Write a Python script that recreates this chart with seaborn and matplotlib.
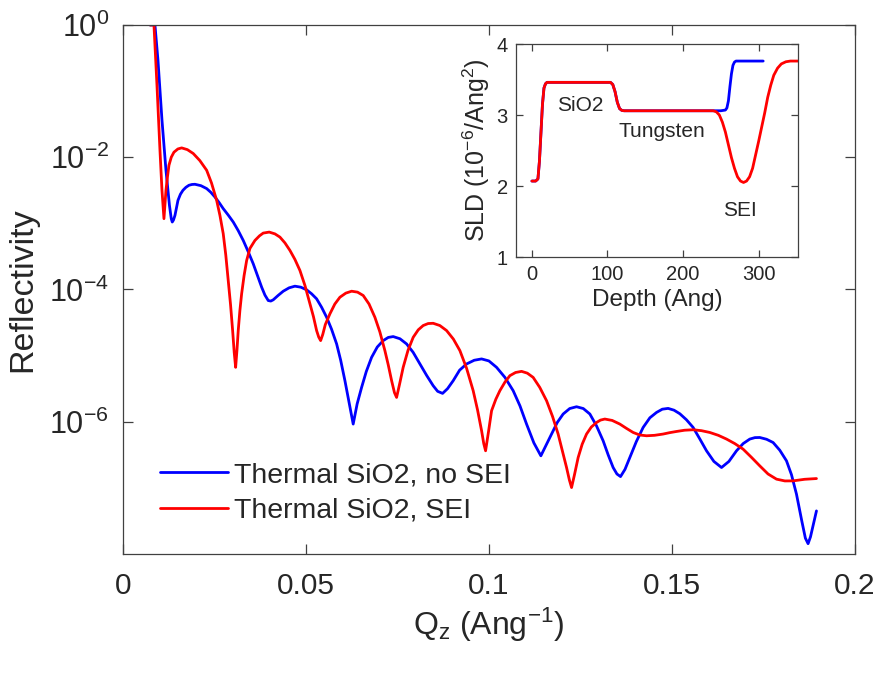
import numpy as np
import pandas as pd
import matplotlib
matplotlib.use("Agg")
import matplotlib.pyplot as plt
import seaborn as sns
from matplotlib.ticker import FixedLocator, LogFormatterSciNotation, NullLocator
from matplotlib.lines import Line2D

# ---------------- data ----------------
# Reflectivity curves: Q_z (1/Ang) and log10(reflectivity)
q_blue = [0.00738, 0.00874, 0.00956, 0.01066, 0.01175, 0.01270, 0.01320, 0.01347, 0.01380,
          0.01421, 0.01503, 0.01570, 0.01639, 0.01720, 0.01803, 0.01885, 0.01967, 0.02130,
          0.02287, 0.02400, 0.02514, 0.02627, 0.02740, 0.02877, 0.03014, 0.03150, 0.03287,
          0.03424, 0.03560, 0.03675, 0.03790, 0.03880, 0.03970, 0.04040, 0.04107, 0.04240,
          0.04380, 0.04540, 0.04699, 0.04860, 0.05019, 0.05155, 0.05292, 0.05430, 0.05566,
          0.05700, 0.05839, 0.05950, 0.06066, 0.06180, 0.06292, 0.06400, 0.06522, 0.06650,
          0.06795, 0.06950, 0.07112, 0.07250, 0.07385, 0.07570, 0.07751, 0.07930, 0.08115,
          0.08300, 0.08478, 0.08600, 0.08735, 0.08870, 0.09025, 0.09200, 0.09391, 0.09600,
          0.09801, 0.10000, 0.10210, 0.10440, 0.10664, 0.10850, 0.11030, 0.11230, 0.11421,
          0.11560, 0.11713, 0.11870, 0.12030, 0.12210, 0.12396, 0.12580, 0.12760, 0.12940,
          0.13123, 0.13260, 0.13396, 0.13500, 0.13598, 0.13720, 0.13852, 0.14030, 0.14216,
          0.14400, 0.14582, 0.14740, 0.14899, 0.15060, 0.15219, 0.15400, 0.15582, 0.15765,
          0.15948, 0.16150, 0.16358, 0.16560, 0.16768, 0.16950, 0.17131, 0.17270, 0.17404,
          0.17590, 0.17768, 0.17950, 0.18134, 0.18270, 0.18407, 0.18552, 0.18650, 0.18724,
          0.18790, 0.18870, 0.18953]
log_r_blue = [0.0, 0.0, -0.530, -1.439, -2.197, -2.727, -2.93, -2.980, -2.95,
              -2.879, -2.652, -2.56, -2.50, -2.455, -2.424, -2.412, -2.409, -2.43,
              -2.474, -2.53, -2.602, -2.685, -2.777, -2.875, -2.980, -3.11, -3.258,
              -3.43, -3.611, -3.79, -3.965, -4.085, -4.167, -4.175, -4.156, -4.09,
              -4.026, -3.975, -3.950, -3.965, -4.005, -4.065, -4.141, -4.27, -4.420,
              -4.60, -4.823, -5.07, -5.379, -5.71, -6.035, -5.73, -5.480, -5.24,
              -5.026, -4.87, -4.773, -4.725, -4.712, -4.745, -4.823, -4.95, -5.126,
              -5.30, -5.455, -5.54, -5.571, -5.50, -5.379, -5.22, -5.126, -5.07,
              -5.050, -5.08, -5.177, -5.33, -5.530, -5.76, -6.035, -6.32, -6.515,
              -6.36, -6.186, -6.01, -5.883, -5.80, -5.773, -5.80, -5.883, -6.06,
              -6.288, -6.50, -6.692, -6.79, -6.829, -6.72, -6.541, -6.30, -6.086,
              -5.94, -5.859, -5.81, -5.798, -5.825, -5.879, -5.97, -6.086, -6.26,
              -6.439, -6.60, -6.692, -6.60, -6.439, -6.33, -6.262, -6.240, -6.238,
              -6.265, -6.314, -6.43, -6.591, -6.80, -7.095, -7.5, -7.76, -7.844,
              -7.74, -7.55, -7.348]

q_red = [0.00738, 0.00847, 0.00929, 0.01011, 0.01066, 0.01120, 0.01175, 0.01215, 0.01257,
         0.01320, 0.01393, 0.01500, 0.01604, 0.01760, 0.01921, 0.02100, 0.02287, 0.02420,
         0.02560, 0.02650, 0.02740, 0.02810, 0.02877, 0.02940, 0.02997, 0.03040, 0.03079,
         0.03115, 0.03150, 0.03195, 0.03243, 0.03310, 0.03380, 0.03470, 0.03607, 0.03730,
         0.03833, 0.03997, 0.04153, 0.04290, 0.04426, 0.04563, 0.04699, 0.04836, 0.04973,
         0.05109, 0.05205, 0.05292, 0.05350, 0.05402, 0.05460, 0.05530, 0.05656, 0.05790,
         0.05929, 0.06090, 0.06249, 0.06410, 0.06566, 0.06725, 0.06885, 0.07020, 0.07158,
         0.07250, 0.07342, 0.07420, 0.07478, 0.07560, 0.07658, 0.07790, 0.07932, 0.08070,
         0.08205, 0.08340, 0.08478, 0.08660, 0.08844, 0.09030, 0.09208, 0.09390, 0.09571,
         0.09690, 0.09801, 0.09860, 0.09910, 0.09990, 0.10074, 0.10190, 0.10301, 0.10440,
         0.10574, 0.10730, 0.10893, 0.11050, 0.11210, 0.11390, 0.11577, 0.11740, 0.11893,
         0.12010, 0.12123, 0.12200, 0.12260, 0.12340, 0.12440, 0.12550, 0.12669, 0.12800,
         0.12943, 0.13050, 0.13169, 0.13370, 0.13579, 0.13760, 0.13943, 0.14120, 0.14309,
         0.14530, 0.14762, 0.14940, 0.15128, 0.15350, 0.15582, 0.15810, 0.16038, 0.16270,
         0.16495, 0.16720, 0.16948, 0.17180, 0.17404, 0.17630, 0.17861, 0.18090, 0.18314,
         0.18630, 0.18953]
log_r_red = [0.0, 0.0, -0.909, -1.894, -2.5, -2.929, -2.5, -2.30, -2.121,
             -2.00, -1.924, -1.875, -1.859, -1.885, -1.944, -2.05, -2.197, -2.39,
             -2.652, -2.88, -3.156, -3.48, -3.864, -4.23, -4.621, -4.95, -5.177,
             -4.92, -4.621, -4.32, -4.065, -3.79, -3.561, -3.379, -3.258, -3.189,
             -3.147, -3.132, -3.159, -3.208, -3.295, -3.409, -3.545, -3.712, -3.939,
             -4.217, -4.409, -4.621, -4.72, -4.773, -4.68, -4.53, -4.368, -4.22,
             -4.117, -4.055, -4.026, -4.04, -4.091, -4.22, -4.420, -4.64, -4.924,
             -5.14, -5.379, -5.56, -5.632, -5.43, -5.177, -4.92, -4.723, -4.61,
             -4.545, -4.515, -4.511, -4.545, -4.621, -4.75, -4.924, -5.19, -5.530,
             -5.82, -6.136, -6.33, -6.439, -6.15, -5.833, -5.66, -5.530, -5.40,
             -5.303, -5.255, -5.238, -5.265, -5.329, -5.48, -5.682, -5.92, -6.186,
             -6.44, -6.692, -6.88, -6.995, -6.80, -6.541, -6.34, -6.186, -6.08,
             -6.011, -5.975, -5.959, -5.98, -6.035, -6.10, -6.162, -6.20, -6.212,
             -6.205, -6.186, -6.165, -6.147, -6.128, -6.121, -6.135, -6.162, -6.205,
             -6.262, -6.33, -6.414, -6.54, -6.667, -6.79, -6.868, -6.895, -6.894,
             -6.87, -6.859]

# inset SLD profiles (depth in Ang, SLD in 1e-6/Ang^2)
depth_blue = [0, 5, 8, 10, 12, 14, 16, 18, 20, 104, 107, 110, 113, 116, 119, 122,
              240, 250, 256, 258, 260, 262, 264, 266, 268, 270, 306]
sld_blue = [2.07, 2.07, 2.10, 2.35, 2.75, 3.15, 3.38, 3.44, 3.46, 3.46, 3.43, 3.33, 3.18, 3.09,
            3.065, 3.06, 3.06, 3.06, 3.07, 3.10, 3.20, 3.40, 3.58, 3.70, 3.745, 3.76, 3.76]
depth_red = [0, 5, 8, 10, 12, 14, 16, 18, 20, 104, 107, 110, 113, 116, 119, 122,
             240, 244, 248, 252, 256, 260, 264, 268, 272, 276, 280, 284, 288, 292, 296,
             300, 304, 308, 312, 316, 320, 325, 330, 336, 342, 352]
sld_red = [2.07, 2.07, 2.10, 2.35, 2.75, 3.15, 3.38, 3.44, 3.46, 3.46, 3.43, 3.33, 3.18, 3.09,
           3.065, 3.06, 3.06, 3.045, 3.00, 2.90, 2.76, 2.58, 2.40, 2.25, 2.13, 2.07, 2.05,
           2.07, 2.13, 2.25, 2.44, 2.63, 2.83, 3.03, 3.25, 3.42, 3.56, 3.66, 3.72, 3.75,
           3.76, 3.76]

series_labels = ["Thermal SiO2, no SEI", "Thermal SiO2, SEI"]
layer_labels = ["SiO2", "Tungsten", "SEI"]
layer_pos = [(64, 3.14), (172, 2.77), (275, 1.66)]

x_ticks = [0, 0.05, 0.1, 0.15, 0.2]
x_ticklabels = ["0", "0.05", "0.1", "0.15", "0.2"]
y_ticks = [1e-6, 1e-4, 1e-2, 1e0]

# ---------------- style ----------------
sns.set_style("ticks")
TXT = "#262626"
plt.rcParams.update({
    "font.family": ["Liberation Sans", "DejaVu Sans"],
    "mathtext.fontset": "custom",
    "mathtext.rm": "Liberation Sans",
    "mathtext.it": "Liberation Sans",
    "mathtext.bf": "Liberation Sans",
    "mathtext.default": "regular",
    "axes.unicode_minus": False,
    "text.color": TXT,
    "axes.labelcolor": TXT,
    "xtick.color": "#404040",
    "ytick.color": "#404040",
    "xtick.labelcolor": TXT,
    "ytick.labelcolor": TXT,
    "axes.edgecolor": "#404040",
    "axes.linewidth": 0.9,
})

fig = plt.figure(figsize=(8.74, 6.73), dpi=100)
ax = fig.add_axes([0.1407, 0.1768, 0.8373, 0.7861])

df_main = pd.concat([
    pd.DataFrame({"q": q_blue, "R": 10.0 ** np.array(log_r_blue), "s": series_labels[0]}),
    pd.DataFrame({"q": q_red, "R": 10.0 ** np.array(log_r_red), "s": series_labels[1]}),
])
sns.lineplot(data=df_main, x="q", y="R", hue="s", palette=["#0000ff", "#ff0000"],
             sort=False, estimator=None, linewidth=2.0, ax=ax, legend=False)
for ln in ax.get_lines():
    ln.set_solid_joinstyle("round")
ax.set_yscale("log")
ax.set_xlim(0, 0.2)
ax.set_ylim(1e-8, 1)
ax.set_xticks(x_ticks)
ax.set_xticklabels(x_ticklabels)
ax.yaxis.set_major_locator(FixedLocator(y_ticks))
ax.yaxis.set_major_formatter(LogFormatterSciNotation())
ax.yaxis.set_minor_locator(NullLocator())
ax.tick_params(axis="both", which="major", direction="in", length=7, width=0.9,
               labelsize=22, top=True, right=True)
ax.tick_params(axis="x", pad=13, labelsize=21.5)
ax.tick_params(axis="y", pad=10)
ax.set_xlabel("Q$_z$ (Ang$^{-1}$)", fontsize=23, labelpad=4)
ax.set_ylabel("Reflectivity", fontsize=24.5, labelpad=8)
for s in ax.spines.values():
    s.set_visible(True)

handles = [Line2D([], [], color="#0000ff", lw=2.0), Line2D([], [], color="#ff0000", lw=2.0)]
ax.legend(handles, series_labels, loc="lower left", bbox_to_anchor=(0.035, 0.036),
          frameon=False, fontsize=20.5, handlelength=2.4, handletextpad=0.2,
          labelspacing=0.33, borderaxespad=0.0)

# ---------------- inset ----------------
ins = fig.add_axes([0.5904, 0.6181, 0.3226, 0.3165])
ins.set_facecolor("white")
sns.lineplot(x=depth_blue, y=sld_blue, color="#0000ff", linewidth=2.0, sort=False,
             estimator=None, ax=ins)
sns.lineplot(x=depth_red, y=sld_red, color="#ff0000", linewidth=2.0, sort=False,
             estimator=None, ax=ins)
for ln in ins.get_lines():
    ln.set_solid_joinstyle("round")
ins.set_xlim(-21, 352)
ins.set_ylim(1, 4)
ins.set_xticks([0, 100, 200, 300])
ins.set_yticks([1, 2, 3, 4])
ins.tick_params(axis="both", direction="in", length=5, width=0.9, labelsize=14.5,
                top=True, right=True, pad=6)
ins.set_xlabel("Depth (Ang)", fontsize=17.5, labelpad=3)
ins.set_ylabel("SLD (10$^{-6}$/Ang$^2$)", fontsize=18, labelpad=3)
for s in ins.spines.values():
    s.set_visible(True)
for lab, (xx, yy) in zip(layer_labels, layer_pos):
    ins.text(xx, yy, lab, fontsize=15, ha="center", va="center", color=TXT)

fig.savefig("out.png", dpi=100)
